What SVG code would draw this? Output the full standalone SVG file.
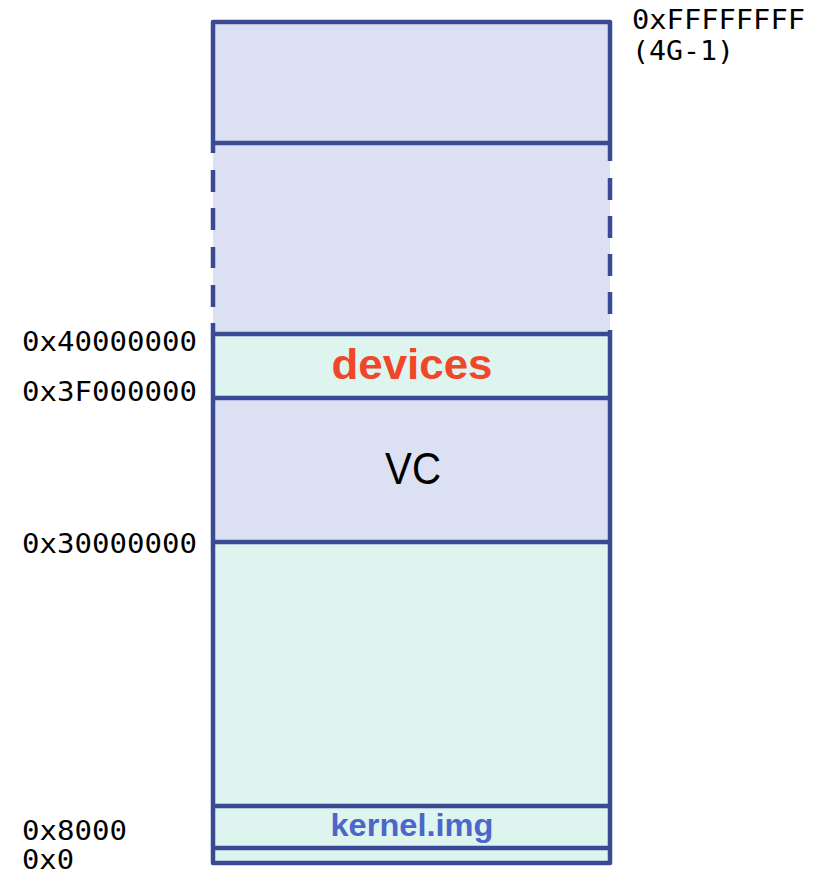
<svg xmlns="http://www.w3.org/2000/svg" width="824" height="876" viewBox="0 0 824 876">
<style>
.lav{fill:#DCE0F3}
.mint{fill:#DDF4EF}
.ln{stroke:#3A4A94;stroke-width:4.5;fill:none;stroke-linecap:butt}
.addr{font-family:"DejaVu Sans Mono",monospace;font-size:27px;fill:#000}
</style>
<rect width="824" height="876" fill="#fff"/>
<g id="regions">
<g id="top-region"><rect class="lav" x="213" y="22" width="397" height="121"/></g>
<g id="unmapped-region"><rect class="lav" x="213" y="143" width="397" height="191"/></g>
<g id="devices-region"><rect class="mint" x="213" y="334" width="397" height="64"/>
<text x="412" y="379" text-anchor="middle" font-family="'Liberation Sans',Arial,sans-serif" font-weight="bold" font-size="43" fill="#F0462A" textLength="161" lengthAdjust="spacingAndGlyphs">devices</text></g>
<g id="vc-region"><rect class="lav" x="213" y="398" width="397" height="144"/>
<text x="413" y="484" text-anchor="middle" font-family="'Liberation Sans',Arial,sans-serif" font-size="45" fill="#000" textLength="56" lengthAdjust="spacingAndGlyphs">VC</text></g>
<g id="ram-region"><rect class="mint" x="213" y="542" width="397" height="264"/></g>
<g id="kernel-region"><rect class="mint" x="213" y="806" width="397" height="42"/>
<text x="412" y="836" text-anchor="middle" font-family="'Liberation Sans',Arial,sans-serif" font-weight="bold" font-size="31" fill="#4D66C9" textLength="163" lengthAdjust="spacingAndGlyphs">kernel.img</text></g>
<g id="low-region"><rect class="mint" x="213" y="848" width="397" height="15"/></g>
</g>
<g id="lines">
<path class="ln" stroke-linejoin="round" d="M213 153V22H610V161"/>
<path class="ln" stroke-linejoin="round" d="M213 323V863H610V330"/>
<path class="ln" d="M213 143H610M213 334H610M213 398H610M213 542H610M213 806H610M213 848H610"/>
<path class="ln" d="M213 170V192M213 208V230M213 247V268M213 285V307"/>
<path class="ln" d="M610 178V200M610 216V238M610 254V276M610 292V314"/>
</g>
<g id="labels">
<text class="addr" x="632" y="29" textLength="173" lengthAdjust="spacingAndGlyphs">0xFFFFFFFF</text>
<text class="addr" x="632" y="60" textLength="102" lengthAdjust="spacingAndGlyphs">(4G-1)</text>
<text class="addr" x="22" y="351" textLength="175" lengthAdjust="spacingAndGlyphs">0x40000000</text>
<text class="addr" x="22" y="401" textLength="175" lengthAdjust="spacingAndGlyphs">0x3F000000</text>
<text class="addr" x="22" y="553" textLength="175" lengthAdjust="spacingAndGlyphs">0x30000000</text>
<text class="addr" x="22" y="840" textLength="105" lengthAdjust="spacingAndGlyphs">0x8000</text>
<text class="addr" x="22" y="869" textLength="52" lengthAdjust="spacingAndGlyphs">0x0</text>
</g>
</svg>
